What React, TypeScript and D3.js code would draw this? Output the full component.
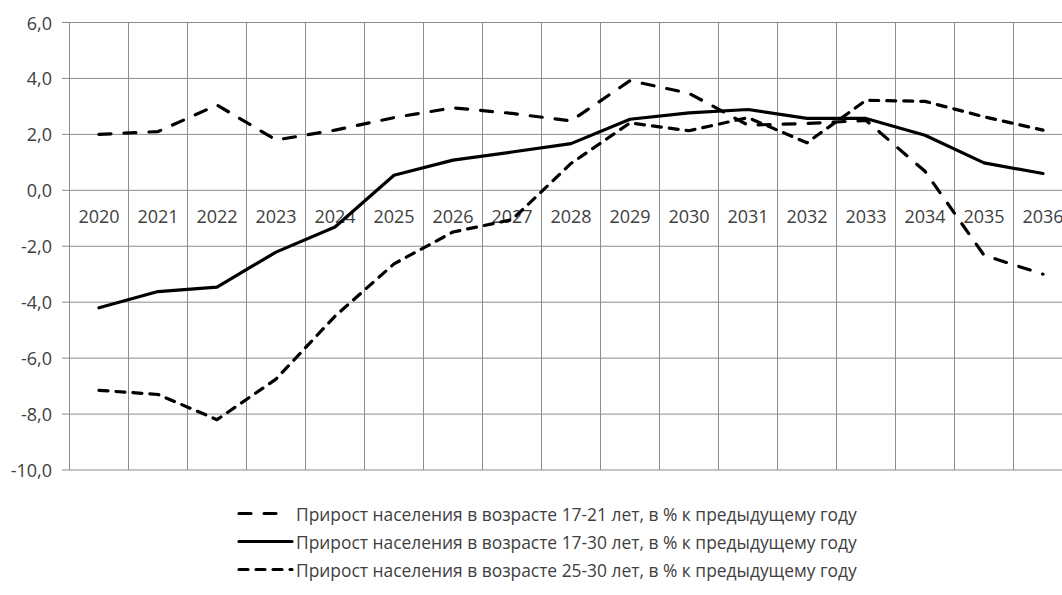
import React from "react";
import * as d3 from "d3";

const years = ["2020","2021","2022","2023","2024","2025","2026","2027","2028","2029","2030","2031","2032","2033","2034","2035","2036"];
const s1721 = [2.0, 2.1, 3.05, 1.8, 2.15, 2.6, 2.95, 2.75, 2.48, 3.92, 3.47, 2.33, 2.39, 2.5, 0.68, -2.32, -3.0];
const s1730 = [-4.2, -3.62, -3.46, -2.21, -1.31, 0.54, 1.08, 1.37, 1.67, 2.54, 2.77, 2.89, 2.57, 2.57, 1.97, 0.98, 0.6];
const s2530 = [-7.15, -7.3, -8.2, -6.75, -4.5, -2.63, -1.49, -1.05, 0.96, 2.41, 2.13, 2.6, 1.7, 3.22, 3.18, 2.63, 2.15];
const yTicks = [-10, -8, -6, -4, -2, 0, 2, 4, 6];
const legendLabels = [
  "Прирост населения в возрасте 17-21 лет, в % к предыдущему году",
  "Прирост населения в возрасте 17-30 лет, в % к предыдущему году",
  "Прирост населения в возрасте 25-30 лет, в % к предыдущему году",
];

const W = 1062, H = 595;
const FONT = "'Open Sans', sans-serif";
const GRID = "#8c8c8c";
const TXT = "#404040";

export default function App() {
  const x = d3.scaleBand<string>().domain(years).range([69.5, 69.5 + 59 * years.length]).paddingInner(0).paddingOuter(0);
  const y = d3.scaleLinear().domain([-10, 6]).range([470, 22.5]);
  const cx = (i: number) => (x(years[i]) as number) + x.bandwidth() / 2;
  const line = d3.line<number>().x((_, i) => cx(i)).y((d) => y(d));

  const series = [
    { data: s1721, dash: "12,13" },
    { data: s1730, dash: "none" },
    { data: s2530, dash: "9,8" },
  ];
  const boundaries = years.map((yr) => x(yr) as number).concat([(x(years[years.length - 1]) as number) + x.bandwidth()]);

  return (
    <svg width={W} height={H} style={{ position: "absolute", left: 0, top: 0, background: "#fff" }}>
      <rect x={0} y={0} width={W} height={H} fill="#fff" />
      {yTicks.map((t) => (
        <line key={"h" + t} x1={62} x2={W + 20} y1={y(t)} y2={y(t)} stroke={GRID} strokeWidth={1} />
      ))}
      {boundaries.map((b, i) => (
        <line key={"v" + i} x1={b} x2={b} y1={y(6)} y2={y(-10)} stroke={GRID} strokeWidth={1} />
      ))}
      {yTicks.map((t) => (
        <text key={"t" + t} x={52} y={y(t)} textAnchor="end" dominantBaseline="central" fontFamily={FONT} fontSize={18} fill={TXT}>
          {t.toFixed(1).replace(".", ",")}
        </text>
      ))}
      {years.map((yr, i) => (
        <text key={"c" + yr} x={cx(i)} y={216} textAnchor="middle" dominantBaseline="central" fontFamily={FONT} fontSize={18} fill={TXT}>
          {yr}
        </text>
      ))}
      {series.map((s, i) => (
        <path key={"s" + i} d={line(s.data) as string} fill="none" stroke="#000" strokeWidth={3.2}
          strokeDasharray={s.dash} strokeLinecap="round" strokeLinejoin="round" />
      ))}
      {legendLabels.map((lab, i) => {
        const ly = 513.5 + i * 28;
        return (
          <g key={"l" + i}>
            <line x1={239} x2={i === 0 ? 280 : 292} y1={ly} y2={ly} stroke="#000" strokeWidth={3.2}
              strokeDasharray={series[i].dash} strokeLinecap="round" />
            <text x={296} y={ly} dominantBaseline="central" fontFamily={FONT} fontSize={17.4} fill={TXT}>{lab}</text>
          </g>
        );
      })}
    </svg>
  );
}
